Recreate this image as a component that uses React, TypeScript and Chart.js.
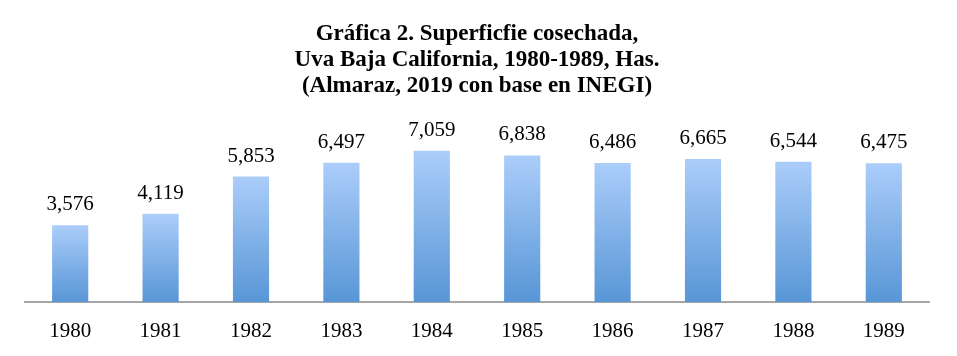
import React, { useEffect, useRef } from "react";
import { Chart, registerables } from "chart.js";

Chart.register(...registerables);

const categories = ["1980", "1981", "1982", "1983", "1984", "1985", "1986", "1987", "1988", "1989"];
const superficie = [3576, 4119, 5853, 6497, 7059, 6838, 6486, 6665, 6544, 6475];
const titleLines = [
  "Gráfica 2. Superficfie cosechada,",
  "Uva Baja California, 1980-1989, Has.",
  "(Almaraz, 2019 con base en INEGI)",
];

const SERIF = "'Liberation Serif', 'Times New Roman', serif";

const valueLabels = {
  id: "valueLabels",
  afterDatasetsDraw(chart: any) {
    const ctx = chart.ctx;
    const meta = chart.getDatasetMeta(0);
    ctx.save();
    ctx.font = `21px ${SERIF}`;
    ctx.fillStyle = "#000";
    ctx.textAlign = "center";
    ctx.textBaseline = "alphabetic";
    meta.data.forEach((bar: any, i: number) => {
      const v = chart.data.datasets[0].data[i] as number;
      ctx.fillText(v.toLocaleString("en-US"), bar.x, bar.y - 15);
    });
    ctx.restore();
  },
};

export default function App() {
  const ref = useRef<HTMLCanvasElement>(null);
  useEffect(() => {
    if (!ref.current) return;
    const chart = new Chart(ref.current, {
      type: "bar",
      data: {
        labels: categories,
        datasets: [
          {
            data: superficie,
            categoryPercentage: 1,
            barPercentage: 0.4,
            backgroundColor: (c: any) => {
              const ch = c.chart;
              const area = ch.chartArea;
              if (!area || c.dataIndex === undefined) return "#7fb3ea";
              const v = superficie[c.dataIndex];
              const top = ch.scales.y.getPixelForValue(v);
              const g = ch.ctx.createLinearGradient(0, area.bottom, 0, top);
              g.addColorStop(0, "#5896d6");
              g.addColorStop(1, "#abcdfa");
              return g;
            },
            borderWidth: 0,
          },
        ],
      },
      options: {
        responsive: false,
        animation: false,
        layout: { padding: { top: 0, left: 25, right: 28, bottom: 0 } },
        plugins: {
          legend: { display: false },
          tooltip: { enabled: false },
          title: {
            display: true,
            text: titleLines,
            color: "#000",
            font: { family: SERIF, size: 23, weight: "bold", lineHeight: "26px" },
            padding: { top: 21, bottom: 31.5 },
          },
        },
        scales: {
          x: {
            grid: { display: false, drawTicks: false },
            border: { display: true, color: "#a6a6a6", width: 2 },
            ticks: { color: "#000", font: { family: SERIF, size: 21 }, padding: 17 },
            afterFit: (s: any) => {
              s.height = 54;
            },
          },
          y: {
            display: false,
            min: 0,
            max: 8000,
          },
        },
      },
      plugins: [valueLabels],
    });
    return () => chart.destroy();
  }, []);
  return (
    <div style={{ position: "absolute", left: 0, top: 0, width: 957, height: 356, background: "#fff" }}>
      <canvas ref={ref} width={957} height={356} />
    </div>
  );
}
